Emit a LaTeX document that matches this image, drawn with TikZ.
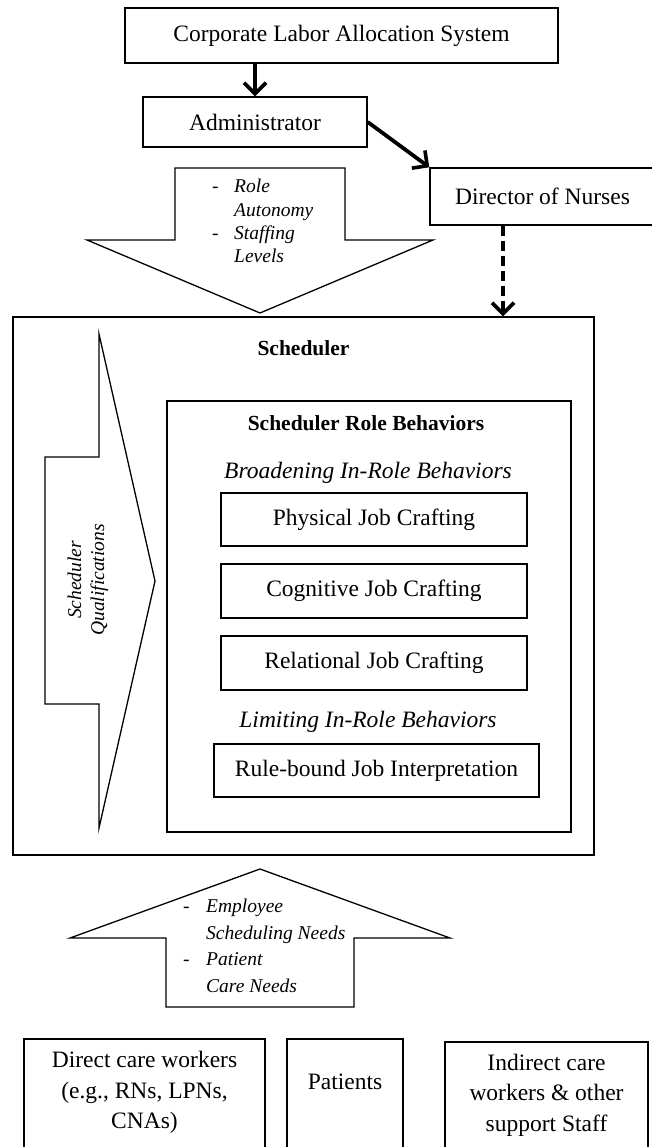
\documentclass[tikz,border=0pt]{standalone}
\usepackage{fontspec}
\setmainfont{Liberation Serif}
\usetikzlibrary{arrows.meta}
\begin{document}
\begin{tikzpicture}[x=1pt,y=-1pt,
  box/.style={draw, line width=1.4pt, inner sep=0pt, align=center,
    font=\fontsize{23.5}{30.5}\selectfont},
  txt/.style={inner sep=0pt, align=center, font=\fontsize{23.5}{30.5}\selectfont},
  itx/.style={inner sep=0pt, align=center, font=\itshape\fontsize{23.5}{28}\selectfont},
  btx/.style={inner sep=0pt, font=\bfseries\fontsize{21.5}{26}\selectfont},
  blk/.style={draw, line width=1.3pt, fill=white, line join=miter},
  arr/.style={line width=3.8pt, -{Straight Barb[length=11pt,width=22pt,line width=3.6pt]}},
  bul/.style={inner sep=0pt, anchor=west},
]
\useasboundingbox (0,0) rectangle (652,1147);
\clip (0,0) rectangle (652,1147);

% top boxes
\node[box, minimum width=433pt, minimum height=55pt] (corp) at (341.5,35.5) {Corporate Labor Allocation System};
\node[box, minimum width=224pt, minimum height=50pt] (adm) at (255,122) {Administrator};
\node[box, minimum width=225pt, minimum height=57pt] (dir) at (542.5,196.5) {Director of Nurses};

% top block arrow
\draw[blk] (175,168) -- (345,168) -- (345,240) -- (433,240) -- (260,313) -- (87,240) -- (175,240) -- cycle;
\node[bul] (toptxt) at (212,223) {\fontsize{19.5}{23.3}\selectfont
  \begin{tabular}{@{}p{22pt}@{}l@{}}
  - & \textit{Role}\\
    & \textit{Autonomy}\\
  - & \textit{Staffing}\\
    & \textit{Levels}
  \end{tabular}};

% scheduler
\node[draw, line width=1.4pt, minimum width=581pt, minimum height=538pt, inner sep=0pt] (sched) at (303.5,586) {};
\node[btx] (schedt) at (303.5,348) {Scheduler};

% left block arrow
\draw[blk] (45,457) -- (99,457) -- (99,334) -- (155,581) -- (99,828) -- (99,704) -- (45,704) -- cycle;
\node[rotate=90, inner sep=0pt, align=center, font=\itshape\fontsize{19.5}{23}\selectfont] (qual) at (88,580) {Scheduler\\Qualifications};

% inner box
\node[draw, line width=1.4pt, minimum width=404pt, minimum height=431pt, inner sep=0pt] (inner) at (369,616.5) {};
\node[btx] (innert) at (366,423) {Scheduler Role Behaviors};
\node[itx] (broad) at (368,473) {Broadening In-Role Behaviors};
\node[box, minimum width=306pt, minimum height=53pt] (phys) at (374,519.5) {Physical Job Crafting};
\node[box, minimum width=306pt, minimum height=54pt] (cog) at (374,591) {Cognitive Job Crafting};
\node[box, minimum width=306pt, minimum height=54pt] (rel) at (374,663) {Relational Job Crafting};
\node[itx] (lim) at (368,722) {Limiting In-Role Behaviors};
\node[box, minimum width=325pt, minimum height=53pt] (rule) at (376.5,770.5) {Rule-bound Job Interpretation};

% bottom block arrow
\draw[blk] (260,869) -- (450,938) -- (354,938) -- (354,1007) -- (166,1007) -- (166,938) -- (70,938) -- cycle;
\node[bul] (bottxt) at (183,947) {\fontsize{19.5}{26.7}\selectfont
  \begin{tabular}{@{}p{23pt}@{}l@{}}
  - & \textit{Employee}\\
    & \textit{Scheduling Needs}\\
  - & \textit{Patient}\\
    & \textit{Care Needs}
  \end{tabular}};

% bottom boxes
\node[draw, line width=1.4pt, minimum width=241pt, minimum height=110pt, inner sep=0pt] (direct) at (144.5,1094) {};
\node[txt] (directt) at (144.5,1092.5) {Direct care workers\\(e.g., RNs, LPNs,\\CNAs)};
\node[draw, line width=1.4pt, minimum width=116pt, minimum height=110pt, inner sep=0pt] (pat) at (345,1094) {};
\node[txt] (patt) at (345,1082) {Patients};
\node[draw, line width=1.4pt, minimum width=203pt, minimum height=107pt, inner sep=0pt] (ind) at (546.5,1095.5) {};
\node[txt] (indt) at (546.5,1095) {Indirect care\\workers \& other\\support Staff};

% connectors
\draw[arr] (corp.south -| adm.north) -- (adm.north);
\draw[arr] (adm.east) -- (dir.north west);
\draw[arr, dash pattern=on 10pt off 5pt] ([xshift=-39.5pt]dir.south) -- ([xshift=-39.5pt]dir.south |- sched.north);
\end{tikzpicture}
\end{document}
